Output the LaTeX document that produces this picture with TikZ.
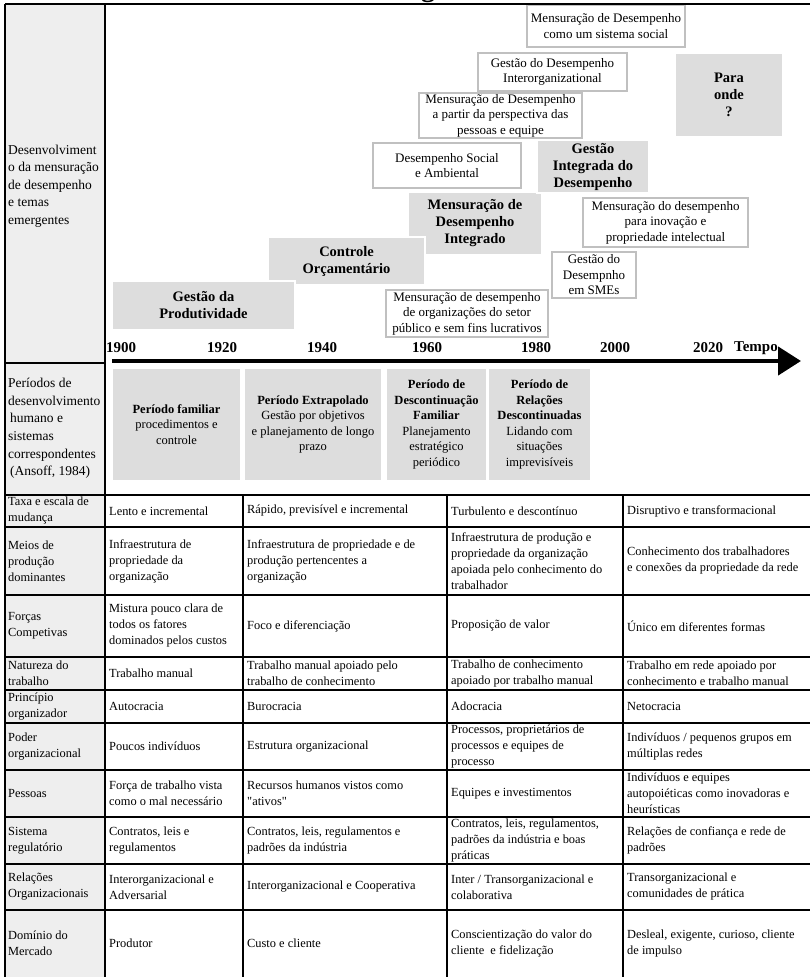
\documentclass[tikz,border=0pt]{standalone}
\usepackage{fontspec}
\setmainfont{Liberation Serif}
% same face without TeX input ligatures, for straight double quotes
\newfontfamily\rawserif{Liberation Serif}
\usetikzlibrary{arrows.meta}
\definecolor{leftgray}{RGB}{238,238,238}
\definecolor{boxgray}{RGB}{221,221,221}
\definecolor{framegray}{RGB}{192,192,192}
\newcommand\tabfont{\fontsize{12.4}{16}\selectfont}
% box helper: name, x1, y1, x2, y2, style, text
\newcommand\drawbox[7]{%
  \node[#6, minimum width={#4pt-#2pt}, minimum height={#5pt-#3pt}] (#1)
    at ({(#2+#4)/2},{(#3+#5)/2}) {#7};}
\begin{document}
\begin{tikzpicture}[x=1pt,y=-1pt,
  grid/.style={line width=2.4pt, black},
  cell/.style={anchor=west, align=left, inner sep=0pt, font=\tabfont},
  lefttext/.style={anchor=west, align=left, inner sep=0pt, font=\fontsize{13.5}{17.6}\selectfont},
  hdr/.style={fill=boxgray, draw=white, line width=1.5pt, align=center, inner sep=0pt,
    font=\bfseries\fontsize{14.5}{17}\selectfont},
  topic/.style={fill=white, draw=framegray, line width=1.4pt, align=center, inner sep=0pt,
    font=\fontsize{13}{15.5}\selectfont},
  period/.style={fill=boxgray, align=center, inner sep=0pt, font=\fontsize{12.5}{15.5}\selectfont},
  year/.style={inner sep=0pt, font=\bfseries\fontsize{15}{18}\selectfont}]
\useasboundingbox (0,0) rectangle (810,977);
\clip (0,0) rectangle (810,977);
\fill[white] (0,0) rectangle (810,977);

% title fragment above the frame
\node[anchor=base, inner sep=0pt, font=\bfseries\fontsize{28}{28}\selectfont] (ttl) at (428,-3) {g};

% left heading column
\fill[leftgray] (5,4) rectangle (105,977);

% ---------------- emerging themes ----------------
\node[lefttext] (lab1) at (8,186) {Desenvolviment\\o da mensuração\\de desempenho\\e temas\\emergentes};

\drawbox{mdi}{408}{192}{542}{255}{hdr}{Mensuração de\\Desempenho\\Integrado}
\drawbox{gid}{537}{140}{649}{193}{hdr}{Gestão\\Integrada do\\Desempenho}
\drawbox{co}{268}{237}{425}{285}{hdr}{Controle\\Orçamentário}
\drawbox{gp}{112}{281}{295}{330}{hdr}{Gestão da\\Produtividade}
\drawbox{po}{675}{53}{783}{137}{hdr}{Para\\onde\\?}

\drawbox{tsoc}{527}{5}{685}{47}{topic}{Mensuração de Desempenho\\como um sistema social}
\drawbox{tint}{478}{53}{627}{91}{topic}{Gestão do Desempenho\\Interorganizational}
\drawbox{tpes}{419}{93}{582}{138}{topic}{Mensuração de Desempenho\\a partir da perspectiva das\\pessoas e equipe}
\drawbox{tamb}{373}{143}{521}{188}{topic}{Desempenho Social\\e Ambiental}
\drawbox{tino}{583}{198}{748}{247}{topic}{Mensuração do desempenho\\para inovação e\\propriedade intelectual}
\drawbox{tsme}{552}{252}{636}{298}{topic}{Gestão do\\Desempnho\\em SMEs}
\drawbox{tpub}{386}{290}{548}{337}{topic}{Mensuração de desempenho\\de organizações do setor\\público e sem fins lucrativos}

% ---------------- time axis ----------------
\node[year] (y1900) at (121,348) {1900};
\node[year] (y1920) at (222,348) {1920};
\node[year] (y1940) at (322,348) {1940};
\node[year] (y1960) at (427,348) {1960};
\node[year] (y1980) at (536,348) {1980};
\node[year] (y2000) at (615,348) {2000};
\node[year] (y2020) at (708,348) {2020};
\node[year] (tempo) at (756,348) {Tempo};
\coordinate (tstart) at (112,361);
\coordinate (tend) at (801,361);
\draw[line width=4.5pt, -{Triangle[length=23pt,width=28pt]}] (tstart) -- (tend);

% ---------------- Ansoff periods ----------------
\node[lefttext] (lab2) at (8,428.5) {Períodos de\\desenvolvimento\\\hspace{2pt}humano e\\sistemas\\correspondentes\\\hspace{2pt}(Ansoff, 1984)};
\drawbox{pfam}{113}{369}{240}{480}{period}{\textbf{Período familiar}\\procedimentos e\\controle}
\drawbox{pext}{245}{369}{381}{480}{period}{\textbf{Período Extrapolado}\\Gestão por objetivos\\e planejamento de longo\\prazo}
\drawbox{pdes}{387}{369}{486}{480}{period}{\textbf{Período de}\\\textbf{Descontinuação}\\\textbf{Familiar}\\Planejamento\\estratégico\\periódico}
\drawbox{prel}{489}{369}{590}{480}{period}{\textbf{Período de}\\\textbf{Relações}\\\textbf{Descontinuadas}\\Lidando com\\situações\\imprevisíveis}

% ---------------- frame and table grid ----------------
\draw[grid] (5,4) -- (812,4);
\draw[grid] (5,4) -- (5,980);
\draw[grid] (105,4) -- (105,980);
\draw[grid] (5,363) -- (105,363);
\foreach \yy in {495,527,595,657,690,723,770,817,864,910}
  \draw[grid] (5,\yy) -- (812,\yy);
\foreach \xx in {243,447,623}
  \draw[grid] (\xx,495) -- (\xx,980);

% row 1
\node[cell] (r1a) at (8,511) {Taxa e escala de\\mudança};
\node[cell] (r1b) at (109,511) {Lento e incremental};
\node[cell] (r1c) at (247,511) {Rápido, previsível e incremental};
\node[cell] (r1d) at (451,511) {Turbulento e descontínuo};
\node[cell] (r1e) at (627,511) {Disruptivo e transformacional};
% row 2
\node[cell] (r2a) at (8,561) {Meios de\\produção\\dominantes};
\node[cell] (r2b) at (109,561) {Infraestrutura de\\propriedade da\\organização};
\node[cell] (r2c) at (247,561) {Infraestrutura de propriedade e de\\produção pertencentes a\\organização};
\node[cell] (r2d) at (451,561) {Infraestrutura de produção e\\propriedade da organização\\apoiada pelo conhecimento do\\trabalhador};
\node[cell] (r2e) at (627,561) {Conhecimento dos trabalhadores\\e conexões da propriedade da rede};
% row 3
\node[cell] (r3a) at (8,626) {Forças\\Competivas};
\node[cell] (r3b) at (109,626) {Mistura pouco clara de\\todos os fatores\\dominados pelos custos};
\node[cell] (r3c) at (247,626) {Foco e diferenciação};
\node[cell] (r3d) at (451,626) {Proposição de valor};
\node[cell] (r3e) at (627,626) {Único em diferentes formas};
% row 4
\node[cell] (r4a) at (8,673.5) {Natureza do\\trabalho};
\node[cell] (r4b) at (109,673.5) {Trabalho manual};
\node[cell] (r4c) at (247,673.5) {Trabalho manual apoiado pelo\\trabalho de conhecimento};
\node[cell] (r4d) at (451,673.5) {Trabalho de conhecimento\\apoiado por trabalho manual};
\node[cell] (r4e) at (627,673.5) {Trabalho em rede apoiado por\\conhecimento e trabalho manual};
% row 5
\node[cell] (r5a) at (8,706.5) {Princípio\\organizador};
\node[cell] (r5b) at (109,706.5) {Autocracia};
\node[cell] (r5c) at (247,706.5) {Burocracia};
\node[cell] (r5d) at (451,706.5) {Adocracia};
\node[cell] (r5e) at (627,706.5) {Netocracia};
% row 6
\node[cell] (r6a) at (8,746.5) {Poder\\organizacional};
\node[cell] (r6b) at (109,746.5) {Poucos indivíduos};
\node[cell] (r6c) at (247,746.5) {Estrutura organizacional};
\node[cell] (r6d) at (451,746.5) {Processos, proprietários de\\processos e equipes de\\processo};
\node[cell] (r6e) at (627,746.5) {Indivíduos / pequenos grupos em\\múltiplas redes};
% row 7
\node[cell] (r7a) at (8,793.5) {Pessoas};
\node[cell] (r7b) at (109,793.5) {Força de trabalho vista\\como o mal necessário};
\node[cell] (r7c) at (247,793.5) {Recursos humanos vistos como\\{\rawserif "ativos"}};
\node[cell] (r7d) at (451,793.5) {Equipes e investimentos};
\node[cell] (r7e) at (627,793.5) {Indivíduos e equipes\\autopoiéticas como inovadoras e\\heurísticas};
% row 8
\node[cell] (r8a) at (8,840.5) {Sistema\\regulatório};
\node[cell] (r8b) at (109,840.5) {Contratos, leis e\\regulamentos};
\node[cell] (r8c) at (247,840.5) {Contratos, leis, regulamentos e\\padrões da indústria};
\node[cell] (r8d) at (451,840.5) {Contratos, leis, regulamentos,\\padrões da indústria e boas\\práticas};
\node[cell] (r8e) at (627,840.5) {Relações de confiança e rede de\\padrões};
% row 9
\node[cell] (r9a) at (8,887) {Relações\\Organizacionais};
\node[cell] (r9b) at (109,887) {Interorganizacional e\\Adversarial};
\node[cell] (r9c) at (247,887) {Interorganizacional e Cooperativa};
\node[cell] (r9d) at (451,887) {Inter / Transorganizacional e\\colaborativa};
\node[cell] (r9e) at (627,887) {Transorganizacional e\\comunidades de prática};
% row 10
\node[cell] (r10a) at (8,943.5) {Domínio do\\Mercado};
\node[cell] (r10b) at (109,943.5) {Produtor};
\node[cell] (r10c) at (247,943.5) {Custo e cliente};
\node[cell] (r10d) at (451,943.5) {Conscientização do valor do\\cliente\ \ e fidelização};
\node[cell] (r10e) at (627,943.5) {Desleal, exigente, curioso, cliente\\de impulso};
\end{tikzpicture}
\end{document}
